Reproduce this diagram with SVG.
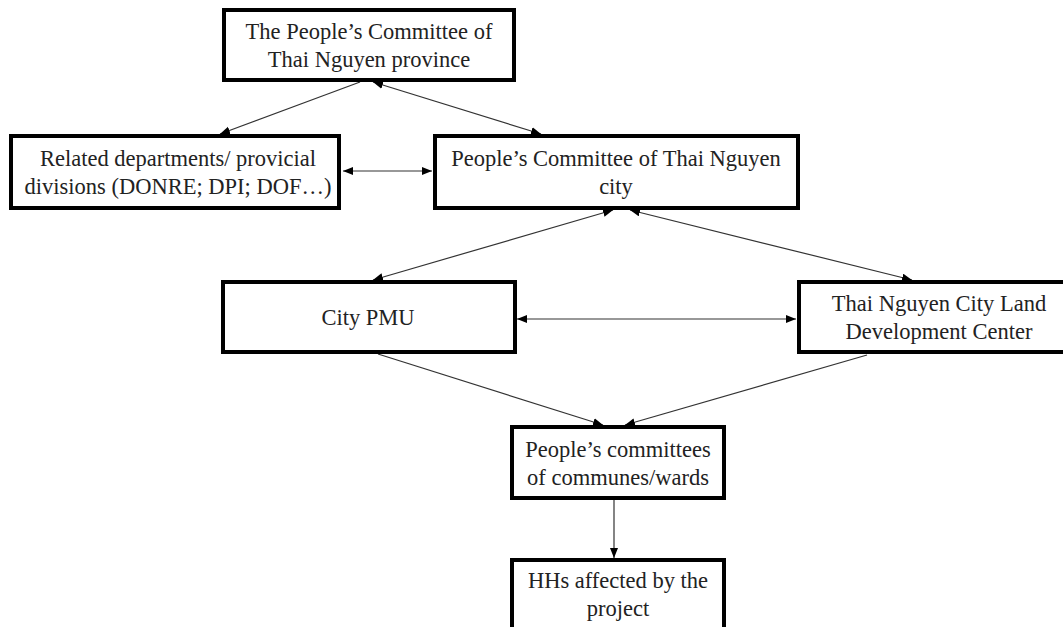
<svg xmlns="http://www.w3.org/2000/svg" width="1063" height="627" viewBox="0 0 1063 627">
  <style>
    .box { fill: #ffffff; stroke: #000000; stroke-width: 4; }
    .lbl { font-family: "Liberation Serif", "Times New Roman", serif; font-size: 22.5px; fill: #222222; text-anchor: middle; }
    .conn { stroke: #333333; stroke-width: 1.2; fill: none; }
  </style>
  <defs>
    <marker id="ah" markerUnits="userSpaceOnUse" markerWidth="11" markerHeight="9" refX="10" refY="4" orient="auto-start-reverse">
      <path d="M0,0 L10,4 L0,8 z" fill="#000000"/>
    </marker>
  </defs>
  <rect width="1063" height="627" fill="#ffffff"/>

  <g id="connectors">
    <line class="conn" x1="360" y1="82" x2="220" y2="134" marker-end="url(#ah)"/>
    <line class="conn" x1="373" y1="82" x2="541" y2="134" marker-start="url(#ah)" marker-end="url(#ah)"/>
    <line class="conn" x1="343" y1="171" x2="432" y2="171" marker-start="url(#ah)" marker-end="url(#ah)"/>
    <line class="conn" x1="613" y1="210" x2="373" y2="280" marker-start="url(#ah)" marker-end="url(#ah)"/>
    <line class="conn" x1="630" y1="210" x2="912" y2="280" marker-start="url(#ah)" marker-end="url(#ah)"/>
    <line class="conn" x1="517" y1="319" x2="796" y2="319" marker-start="url(#ah)" marker-end="url(#ah)"/>
    <line class="conn" x1="378" y1="354" x2="603" y2="425" marker-end="url(#ah)"/>
    <line class="conn" x1="867" y1="355" x2="625" y2="425" marker-end="url(#ah)"/>
    <line class="conn" x1="614" y1="500" x2="614" y2="558" marker-end="url(#ah)"/>
  </g>

  <g id="province">
    <rect class="box" x="224" y="10" width="290" height="70"/>
    <text class="lbl" x="369" y="39">The People’s Committee of</text>
    <text class="lbl" x="369" y="67">Thai Nguyen province</text>
  </g>

  <g id="departments">
    <rect class="box" x="11" y="136" width="328" height="72"/>
    <text class="lbl" x="178" y="166">Related departments/ provicial</text>
    <text class="lbl" x="178" y="194">divisions (DONRE; DPI; DOF…)</text>
  </g>

  <g id="city-committee">
    <rect class="box" x="435" y="136" width="363" height="72"/>
    <text class="lbl" x="616" y="166">People’s Committee of Thai Nguyen</text>
    <text class="lbl" x="616" y="194">city</text>
  </g>

  <g id="city-pmu">
    <rect class="box" x="223" y="282" width="292" height="70"/>
    <text class="lbl" x="368" y="325">City PMU</text>
  </g>

  <g id="land-center">
    <rect class="box" x="799" y="282" width="280" height="70"/>
    <text class="lbl" x="939" y="311">Thai Nguyen City Land</text>
    <text class="lbl" x="939" y="339">Development Center</text>
  </g>

  <g id="communes">
    <rect class="box" x="512" y="427" width="212" height="71"/>
    <text class="lbl" x="618" y="457">People’s committees</text>
    <text class="lbl" x="618" y="485">of communes/wards</text>
  </g>

  <g id="households">
    <rect class="box" x="512" y="560" width="212" height="90"/>
    <text class="lbl" x="618" y="588">HHs affected by the</text>
    <text class="lbl" x="618" y="616">project</text>
  </g>
</svg>
